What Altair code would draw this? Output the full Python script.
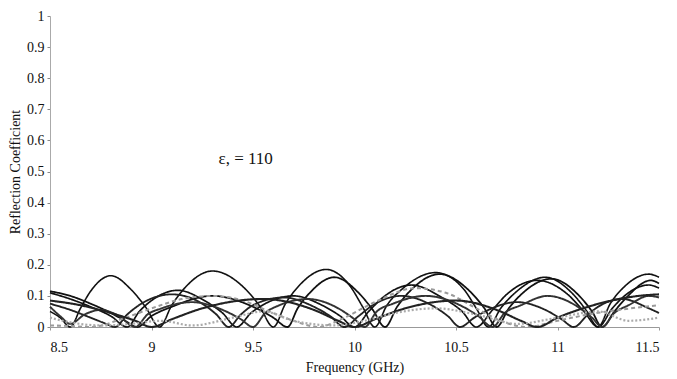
import altair as alt
import pandas as pd

# ---- data ----
c1_f = [8.5,8.55,8.6,8.65,8.7,8.8,8.9,8.97,9.04,9.1,9.17,9.3,9.45,9.53,9.6,9.66,9.73,9.86,9.98,10.04,10.1,10.16,10.24,10.4,10.54,10.6,10.66,10.72,10.8,10.94,11.07,11.14,11.2,11.26,11.33,11.45,11.5]
c1_r = [0.05,0.03,0,0.06,0.115,0.165,0.12,0.065,0,0.07,0.13,0.18,0.13,0.07,0,0.075,0.135,0.185,0.13,0.065,0,0.07,0.125,0.175,0.12,0.06,0,0.06,0.115,0.16,0.11,0.055,0,0.075,0.13,0.17,0.16]

c2_f = [8.5,8.6,8.7,8.8,8.88,8.94,9.0,9.13,9.26,9.35,9.42,9.49,9.56,9.7,9.84,9.93,10.0,10.07,10.14,10.28,10.43,10.53,10.6,10.68,10.75,10.9,11.05,11.13,11.2,11.27,11.33,11.45,11.5]
c2_r = [0.11,0.09,0.065,0.035,0,0.05,0.085,0.118,0.085,0.045,0,0.045,0.075,0.1,0.07,0.035,0,0.05,0.095,0.135,0.095,0.05,0,0.055,0.105,0.15,0.105,0.05,0,0.06,0.1,0.135,0.125]

c3_f = [8.5,8.6,8.7,8.8,8.87,8.93,9.0,9.1,9.3,9.5,9.6,9.67,9.72,9.78,9.9,10.02,10.09,10.15,10.21,10.28,10.42,10.56,10.64,10.7,10.76,10.83,10.97,11.1,11.17,11.22,11.28,11.34,11.46,11.5]
c3_r = [0.115,0.1,0.075,0.045,0.02,0,0.035,0.065,0.1,0.065,0.03,0,0.06,0.11,0.16,0.11,0.055,0,0.065,0.12,0.17,0.12,0.06,0,0.06,0.11,0.155,0.105,0.05,0,0.05,0.095,0.15,0.14]

c4_f = [8.5,8.6,8.7,8.77,8.82,8.88,8.95,9.1,9.25,9.32,9.38,9.44,9.5,9.65,9.8,9.88,9.95,10.02,10.09,10.23,10.38,10.46,10.52,10.59,10.66,10.8,10.94,11.02,11.08,11.15,11.2,11.32,11.45,11.5]
c4_r = [0.075,0.055,0.03,0.012,0,0.04,0.075,0.105,0.075,0.04,0,0.04,0.07,0.095,0.065,0.035,0,0.035,0.07,0.1,0.07,0.035,0,0.03,0.055,0.08,0.055,0.025,0,0.04,0.065,0.09,0.06,0.045]

c5_f = [8.5,8.55,8.6,8.67,8.75,8.84,8.92,8.98,9.05,9.2,9.35,9.44,9.5,9.56,9.63,9.77,9.92,10.0,10.05,10.11,10.19,10.35,10.52,10.61,10.68,10.74,10.82,10.95,11.1,11.17,11.22,11.28,11.35,11.45,11.5]
c5_r = [0.065,0.035,0.01,0.04,0.055,0.035,0,0.04,0.06,0.08,0.055,0.025,0,0.045,0.07,0.09,0.06,0.025,0,0.05,0.075,0.1,0.07,0.035,0,0.045,0.07,0.1,0.065,0.03,0,0.045,0.07,0.1,0.095]

c6_f = [8.5,8.6,8.7,8.85,9.0,9.15,9.3,9.45,9.58,9.7,9.82,9.95,10.1,10.3,10.45,10.6,10.72,10.85,11.0,11.15,11.3,11.5]
c6_r = [0.005,0.003,0,0.025,0.06,0.09,0.1,0.085,0.05,0.02,0,0.03,0.08,0.125,0.11,0.06,0.02,0,0.02,0.04,0.055,0.07]

c7_f = [8.5,8.65,8.8,8.92,9.0,9.1,9.25,9.55,9.8,9.92,10.0,10.1,10.25,10.5,10.7,10.82,10.9,11.0,11.15,11.4,11.5]
c7_r = [0.085,0.07,0.045,0.02,0,0.025,0.06,0.09,0.055,0.02,0,0.025,0.06,0.085,0.055,0.02,0,0.03,0.065,0.1,0.105]

c8_f = [8.5,8.6,8.75,8.9,9.05,9.2,9.4,9.55,9.7,9.9,10.05,10.2,10.4,10.6,10.8,11.0,11.2,11.35,11.5]
c8_r = [0.03,0.015,0.005,0.01,0.02,0.005,0.03,0.05,0.02,0.005,0.02,0.045,0.06,0.04,0.01,0.03,0.05,0.02,0.03]

series_names = ["c1", "c2", "c3", "c4", "c5", "c6", "c7", "c8"]
series_f = [c1_f, c2_f, c3_f, c4_f, c5_f, c6_f, c7_f, c8_f]
series_r = [c1_r, c2_r, c3_r, c4_r, c5_r, c6_r, c7_r, c8_r]

x_ticks = [8.5, 9, 9.5, 10, 10.5, 11, 11.5]
y_ticks = [0, 0.1, 0.2, 0.3, 0.4, 0.5, 0.6, 0.7, 0.8, 0.9, 1]

ann_text = ["ε, = 110"]
ann_f = [9.33]
ann_r = [0.54]

rows = []
for name, fs, rs in zip(series_names, series_f, series_r):
    for f, r in zip(fs, rs):
        rows.append({"series": name, "f": f, "r": r})
df = pd.DataFrame(rows)

FONT = "'Liberation Serif', 'Times New Roman', serif"

x_enc = alt.X("f:Q", scale=alt.Scale(domain=[8.5, 11.5], nice=False, zero=False),
              axis=alt.Axis(title="Frequency (GHz)", values=x_ticks, format="~g",
                            grid=False, domainColor="#999999", tickColor="#999999",
                            tickSize=3, labelFont=FONT, labelFontSize=14, labelColor="#111",
                            titleFont=FONT, titleFontSize=14, titleFontWeight="normal",
                            titleColor="#111", labelPadding=10, titlePadding=6,
                            labelOverlap=False))
y_enc = alt.Y("r:Q", scale=alt.Scale(domain=[0, 1], nice=False),
              axis=alt.Axis(title="Reflection Coefficient", values=y_ticks, format="~g",
                            grid=False, domainColor="#aaaaaa", tickColor="#888888",
                            tickSize=3, labelFont=FONT, labelFontSize=14, labelColor="#111",
                            titleFont=FONT, titleFontSize=14, titleFontWeight="normal",
                            titleColor="#111", labelPadding=3, titlePadding=4,
                            labelOverlap=False))

lines = alt.Chart(df).mark_line(interpolate="monotone").encode(
    x=x_enc,
    y=y_enc,
    detail="series:N",
    color=alt.Color("series:N", legend=None,
                    scale=alt.Scale(domain=series_names,
                                    range=["#111", "#111", "#111", "#222", "#333", "#9a9a9a", "#222", "#aaaaaa"])),
    strokeWidth=alt.StrokeWidth("series:N", legend=None,
                                scale=alt.Scale(domain=series_names,
                                                range=[1.6, 2.2, 2.0, 1.5, 1.2, 1.0, 1.1, 0.9])),
    strokeDash=alt.StrokeDash("series:N", legend=None,
                              scale=alt.Scale(domain=series_names,
                                              range=[[1, 0], [1, 0], [1, 0], [1, 0], [1, 0], [4, 3], [1, 0], [2, 2]])),
)

ann_df = pd.DataFrame({"t": ann_text, "f": ann_f, "r": ann_r})
ann = alt.Chart(ann_df).mark_text(align="left", baseline="middle", font=FONT,
                                  fontSize=17, color="#111").encode(
    x=x_enc, y=y_enc, text="t:N")

chart = alt.layer(lines, ann).properties(
    width=609, height=311,
    autosize=alt.AutoSizeParams(type="none"),
    padding={"left": 42, "top": 8, "right": 10, "bottom": 51},
).configure_view(stroke=None)

chart.save("out.html", embed_options={"renderer": "svg", "actions": False})
